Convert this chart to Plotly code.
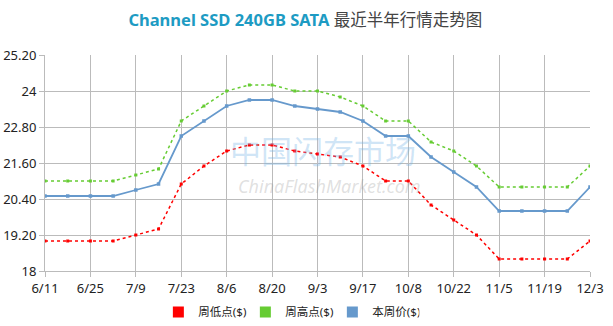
import plotly.graph_objects as go

dates = ["6/11", "6/18", "6/25", "7/2", "7/9", "7/16", "7/23", "7/30", "8/6", "8/13",
         "8/20", "8/27", "9/3", "9/10", "9/17", "9/24", "10/8", "10/15", "10/22", "10/29",
         "11/5", "11/12", "11/19", "11/26", "12/3"]
week_low = [19.0, 19.0, 19.0, 19.0, 19.2, 19.4, 20.9, 21.5, 22.0, 22.2,
            22.2, 22.0, 21.9, 21.8, 21.5, 21.0, 21.0, 20.2, 19.7, 19.2,
            18.4, 18.4, 18.4, 18.4, 19.0]
week_high = [21.0, 21.0, 21.0, 21.0, 21.2, 21.4, 23.0, 23.5, 24.0, 24.2,
             24.2, 24.0, 24.0, 23.8, 23.5, 23.0, 23.0, 22.3, 22.0, 21.5,
             20.8, 20.8, 20.8, 20.8, 21.5]
week_price = [20.5, 20.5, 20.5, 20.5, 20.7, 20.9, 22.5, 23.0, 23.5, 23.7,
              23.7, 23.5, 23.4, 23.3, 23.0, 22.5, 22.5, 21.8, 21.3, 20.8,
              20.0, 20.0, 20.0, 20.0, 20.8]
series_names = ["周低点($)", "周高点($)", "本周价($)"]
y_tickvals = [18, 19.2, 20.4, 21.6, 22.8, 24, 25.2]
y_ticktext = ["18", "19.20", "20.40", "21.60", "22.80", "24", "25.20"]
x_tickvals = dates[::2]

RED = "#ff0000"
GREEN = "#66cc33"
BLUE = "#6699cc"
FONT = "Noto Sans, Noto Sans CJK SC, sans-serif"

fig = go.Figure()

fig.add_trace(go.Scatter(x=dates, y=week_low, mode="lines+markers", showlegend=False,
                         line=dict(color=RED, width=1.5, dash="dot"),
                         marker=dict(symbol="square", size=3, color=RED)))
fig.add_trace(go.Scatter(x=dates, y=week_high, mode="lines+markers", showlegend=False,
                         line=dict(color=GREEN, width=1.5, dash="dot"),
                         marker=dict(symbol="square", size=3, color=GREEN)))
fig.add_trace(go.Scatter(x=dates, y=week_price, mode="lines+markers", showlegend=False,
                         line=dict(color=BLUE, width=1.8),
                         marker=dict(symbol="square", size=3.5, color=BLUE)))

for name, col in zip(series_names, [RED, GREEN, BLUE]):
    fig.add_trace(go.Scatter(x=[None], y=[None], mode="markers", name=name,
                             marker=dict(symbol="square", size=11, color=col)))

# watermark
fig.add_annotation(x=0.51, y=0.556, xref="paper", yref="paper", text="中国闪存市场",
                   showarrow=False, font=dict(size=31, color="rgba(120,180,230,0.35)", family=FONT))
fig.add_annotation(x=0.522, y=0.394, xref="paper", yref="paper", text="<i>ChinaFlashMarket.com</i>",
                   showarrow=False, font=dict(size=18, color="rgba(150,150,150,0.3)", family=FONT))

fig.update_layout(
    width=613, height=326,
    margin=dict(l=45, r=23, t=55, b=55, autoexpand=False),
    paper_bgcolor="white", plot_bgcolor="white",
    font=dict(family=FONT, size=13, color="#222"),
    title=dict(text="<b><span style='color:#1d9bc3'>Channel SSD 240GB SATA</span></b> <span style='color:#444'>最近半年行情走势图</span>",
               x=0.498, xanchor="center", y=0.939, yanchor="middle",
               font=dict(size=16.5, family=FONT)),
    legend=dict(orientation="h", x=0.208, xanchor="left", y=0.043, yanchor="middle",
                yref="container", entrywidth=42, entrywidthmode="pixels",
                font=dict(size=11.5, color="#222"), itemwidth=30, tracegroupgap=0,
                traceorder="normal"),
    xaxis=dict(type="category", range=[0, 24], tickmode="array", tickvals=x_tickvals,
               showgrid=True, gridcolor="#bbbbbb", gridwidth=1, automargin=False,
               showline=True, linecolor="#bbbbbb", ticks="outside", ticklen=5,
               tickcolor="#bbbbbb", tickfont=dict(size=13, color="#222"), zeroline=False),
    yaxis=dict(range=[18, 25.2], tickmode="array", tickvals=y_tickvals, ticktext=y_ticktext,
               showgrid=True, gridcolor="#bbbbbb", gridwidth=1, automargin=False,
               showline=True, linecolor="#bbbbbb", ticks="outside", ticklen=5,
               tickcolor="#bbbbbb", tickfont=dict(size=13, color="#222"), zeroline=False),
)

fig.write_html("out.html")
